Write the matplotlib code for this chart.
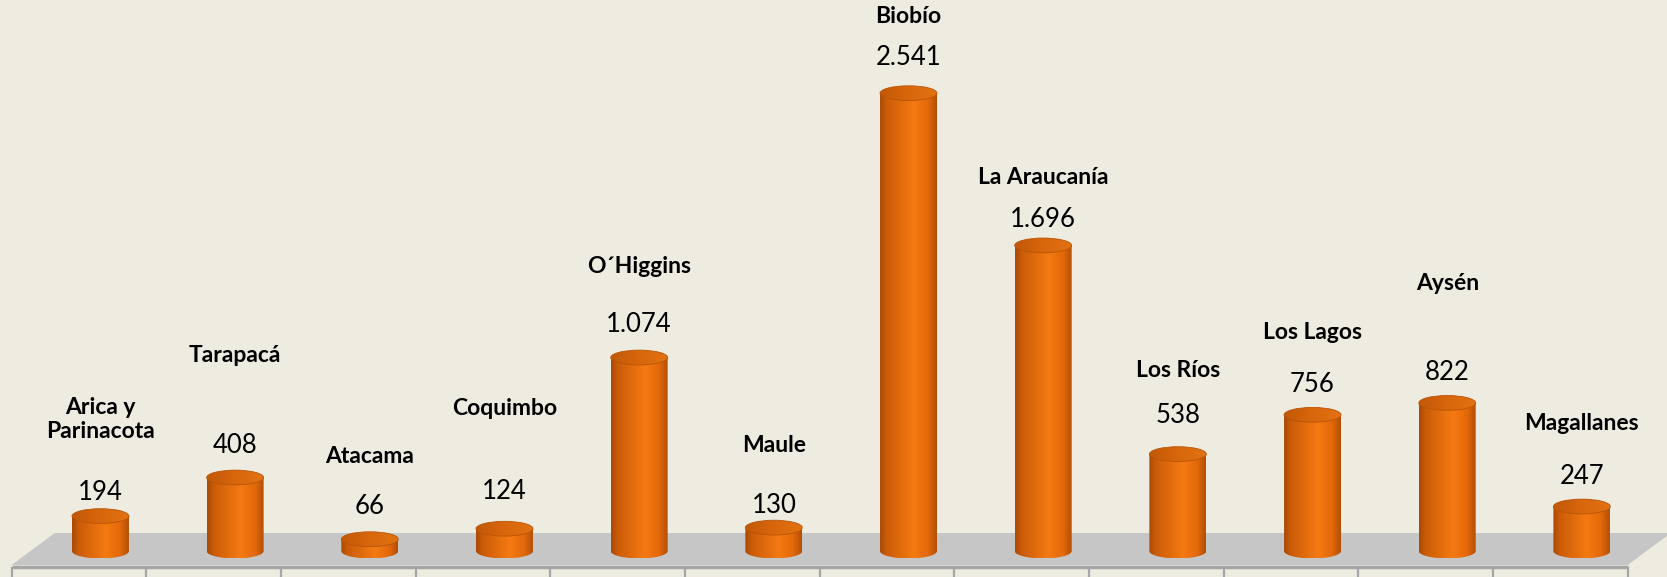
import numpy as np
import matplotlib
matplotlib.use("Agg")
import matplotlib.pyplot as plt
from matplotlib.colors import LinearSegmentedColormap
from matplotlib.patches import Ellipse, Polygon, PathPatch
from matplotlib.path import Path

# ------------------------------------------------------------ datos
regiones = ["Arica y\nParinacota", "Tarapacá", "Atacama", "Coquimbo",
            "O´Higgins", "Maule", "Biobío", "La Araucanía", "Los Ríos",
            "Los Lagos", "Aysén", "Magallanes"]
valores = [194, 408, 66, 124, 1074, 130, 2541, 1696, 538, 756, 822, 247]

# rótulos puestos a mano en el original: separación en px
gap_valor = [16, 25, 25, 30, 26, 15, 28, 19, 31, 23, 23, 23]
gap_nombre = [73, 90, 50, 83, 58, 60, 41, 42, 45, 52, 89, 53]

FONDO = "#EEECE1"
PISO = "#C6C6C6"
BORDE = "#A6A6A6"
FUENTE = ["Lato", "DejaVu Sans"]

cm_cuerpo = LinearSegmentedColormap.from_list(
    "cuerpo", [(0.0, "#A84A06"), (0.12, "#CC5C08"), (0.6, "#F57A12"),
               (0.85, "#E2680A"), (1.0, "#B24F06")])
cm_tapa = LinearSegmentedColormap.from_list(
    "tapa", [(0.0, "#C25808"), (0.5, "#D8660C"), (1.0, "#E27212")])

W, H = 1667, 577
fig = plt.figure(figsize=(W / 100, H / 100), dpi=100)
fig.patch.set_facecolor(FONDO)
ax = fig.add_axes([0, 0, 1, 1])
ax.set_facecolor(FONDO)
XLIM = (-0.746, 11.632)
YLIM = (-144, 3058)
ax.set_xlim(*XLIM)
ax.set_ylim(*YLIM)
ax.axis("off")

n = len(valores)
ancho = 0.423          # ancho del cilindro (categorías)
b = 41.0               # semieje vertical de las elipses (unidades)
prof = 0.16            # desplazamiento de perspectiva del piso
y_frente, y_fondo = -78, 100

# ------------------------------------------------------------ piso
piso = Polygon([(-0.5 - prof, y_frente), (n - 0.5 - prof, y_frente),
                (n - 0.5 + prof, y_fondo), (-0.5 + prof, y_fondo)],
               closed=True, fc=PISO, ec="none", zorder=1)
ax.add_patch(piso)
ax.hlines(y_frente - 8, -0.5 - prof, n - 0.5 - prof, color=BORDE, lw=2.5,
          zorder=1)
marcas = np.arange(n + 1) - 0.5 - prof
ax.vlines(marcas, YLIM[0], y_frente - 8, color=BORDE, lw=1.6, zorder=1)

# ------------------------------------------------------------ cilindros
grad = np.linspace(0, 1, 256).reshape(1, -1)
t = np.linspace(np.pi, 2 * np.pi, 40)
for i, v in enumerate(valores):
    x0, x1 = i - ancho / 2, i + ancho / 2
    arco = np.column_stack([i + ancho / 2 * np.cos(t), b * np.sin(t)])
    verts = np.vstack([[x0, v], arco, [x1, v], [x0, v]])
    cuerpo = PathPatch(Path(verts), fc="none", ec="none",
                       transform=ax.transData)
    ax.add_patch(cuerpo)
    im = ax.imshow(grad, extent=[x0, x1, -b, v], aspect="auto",
                   cmap=cm_cuerpo, zorder=3, interpolation="bilinear")
    im.set_clip_path(cuerpo)

    tapa = Ellipse((i, v), ancho, 2 * b, fc="none", ec="none",
                   transform=ax.transData)
    ax.add_patch(tapa)
    im2 = ax.imshow(grad, extent=[x0, x1, v - b, v + b], aspect="auto",
                    cmap=cm_tapa, zorder=4, interpolation="bilinear")
    im2.set_clip_path(tapa)
    ax.add_patch(Ellipse((i, v), ancho, 2 * b, fc="none", ec="#B85406",
                         lw=0.6, zorder=5))

    texto = f"{v:,}".replace(",", ".")
    ax.annotate(texto, (i, v + b), xytext=(0, gap_valor[i]),
                textcoords="offset pixels", ha="center", va="center",
                fontsize=18.5, family=FUENTE, color="black", zorder=6)
    ax.annotate(regiones[i], (i, v + b),
                xytext=(0, gap_valor[i] + gap_nombre[i]),
                textcoords="offset pixels", ha="center", va="center",
                fontsize=16.5, fontweight="bold", family=FUENTE,
                color="black", linespacing=1.2, zorder=6)

ax.set_xlim(*XLIM)
ax.set_ylim(*YLIM)
fig.savefig("out.png", dpi=100, facecolor=FONDO)
